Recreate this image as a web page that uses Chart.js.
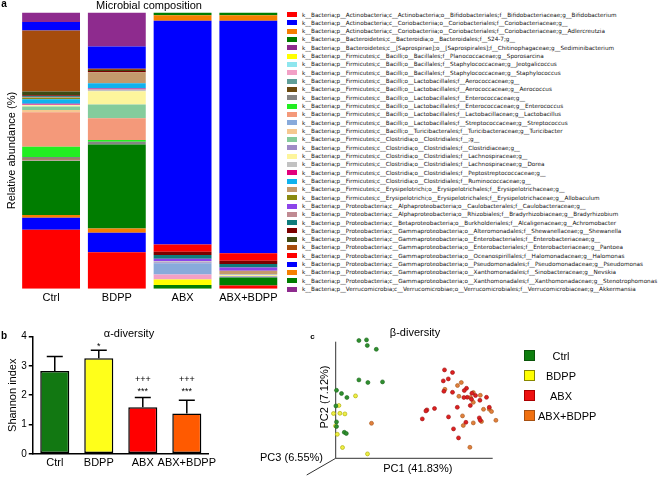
<!DOCTYPE html>
<html>
<head>
<meta charset="utf-8">
<script src="https://cdn.jsdelivr.net/npm/chart.js@4.4.0/dist/chart.umd.min.js"></script>
<style>
  body { margin: 0; width: 659px; height: 477px; position: relative; overflow: hidden; background: #fff;
         font-family: "Liberation Sans", Arial, sans-serif; color: #000; }
  canvas { position: absolute; }
  .t { position: absolute; white-space: nowrap; line-height: 1; transform: translate(-50%, -50%); font-size: 11px; }
  .bold { font-weight: bold; }
  .lr { position: absolute; left: 286px; height: 8.32px; width: 380px; }
  .sw { position: absolute; left: 0.7px; top: 1.66px; width: 10.6px; height: 5px; }
  .lt { position: absolute; left: 16px; top: 0; line-height: 8.32px; font-family: "DejaVu Sans", sans-serif;
        font-size: 5.7px; color: #111; white-space: nowrap; }
  .lgc { position: absolute; height: 20px; }
  .lgc .sq { position: absolute; left: 0; top: 4px; width: 11px; height: 11px; border: 1px solid; box-sizing: border-box; }
  .lgc .lb { position: absolute; left: 14px; top: 4px; display: inline-block; min-width: 46px; text-align: center;
             font-size: 11px; line-height: 12px; white-space: nowrap; }
</style>
</head>
<body>
<canvas id="ca" width="285" height="310" style="left:0;top:0"></canvas>
<canvas id="cb" width="220" height="162" style="left:0;top:315px"></canvas>
<canvas id="cc" width="439" height="167" style="left:220px;top:310px"></canvas>
<div id="legA"></div>
<div id="legC"></div>

<div class="t bold" style="left:4px;top:4px;font-size:10px">a</div>
<div class="t" style="left:149px;top:5px">Microbial composition</div>
<div class="t bold" style="left:4px;top:336px;font-size:10px">b</div>
<div class="t" style="left:129px;top:332.5px">α-diversity</div>
<div class="t bold" style="left:312.5px;top:337px;font-size:8px">c</div>
<div class="t" style="left:415px;top:331.5px">β-diversity</div>
<div class="t" style="left:324px;top:396.7px;transform:translate(-50%,-50%) rotate(-90deg)">PC2 (7.12%)</div>
<div class="t" style="left:291.5px;top:456.7px">PC3 (6.55%)</div>
<div class="t" style="left:417.8px;top:467.5px">PC1 (41.83%)</div>

<script>
// ---- panel a: taxa and relative abundance (%) per group ----
const groups = ['Ctrl', 'BDPP', 'ABX', 'ABX+BDPP'];

const taxa = [
  'k__Bacteria;p__Actinobacteria;c__Actinobacteria;o__Bifidobacteriales;f__Bifidobacteriaceae;g__Bifidobacterium',
  'k__Bacteria;p__Actinobacteria;c__Coriobacteriia;o__Coriobacteriales;f__Coriobacteriaceae;g__',
  'k__Bacteria;p__Actinobacteria;c__Coriobacteriia;o__Coriobacteriales;f__Coriobacteriaceae;g__Adlercreutzia',
  'k__Bacteria;p__Bacteroidetes;c__Bacteroidia;o__Bacteroidales;f__S24-7;g__',
  'k__Bacteria;p__Bacteroidetes;c__[Saprospirae];o__[Saprospirales];f__Chitinophagaceae;g__Sediminibacterium',
  'k__Bacteria;p__Firmicutes;c__Bacilli;o__Bacillales;f__Planococcaceae;g__Sporosarcina',
  'k__Bacteria;p__Firmicutes;c__Bacilli;o__Bacillales;f__Staphylococcaceae;g__Jeotgalicoccus',
  'k__Bacteria;p__Firmicutes;c__Bacilli;o__Bacillales;f__Staphylococcaceae;g__Staphylococcus',
  'k__Bacteria;p__Firmicutes;c__Bacilli;o__Lactobacillales;f__Aerococcaceae;g__',
  'k__Bacteria;p__Firmicutes;c__Bacilli;o__Lactobacillales;f__Aerococcaceae;g__Aerococcus',
  'k__Bacteria;p__Firmicutes;c__Bacilli;o__Lactobacillales;f__Enterococcaceae;g__',
  'k__Bacteria;p__Firmicutes;c__Bacilli;o__Lactobacillales;f__Enterococcaceae;g__Enterococcus',
  'k__Bacteria;p__Firmicutes;c__Bacilli;o__Lactobacillales;f__Lactobacillaceae;g__Lactobacillus',
  'k__Bacteria;p__Firmicutes;c__Bacilli;o__Lactobacillales;f__Streptococcaceae;g__Streptococcus',
  'k__Bacteria;p__Firmicutes;c__Bacilli;o__Turicibacterales;f__Turicibacteraceae;g__Turicibacter',
  'k__Bacteria;p__Firmicutes;c__Clostridia;o__Clostridiales;f__;g__',
  'k__Bacteria;p__Firmicutes;c__Clostridia;o__Clostridiales;f__Clostridiaceae;g__',
  'k__Bacteria;p__Firmicutes;c__Clostridia;o__Clostridiales;f__Lachnospiraceae;g__',
  'k__Bacteria;p__Firmicutes;c__Clostridia;o__Clostridiales;f__Lachnospiraceae;g__Dorea',
  'k__Bacteria;p__Firmicutes;c__Clostridia;o__Clostridiales;f__Peptostreptococcaceae;g__',
  'k__Bacteria;p__Firmicutes;c__Clostridia;o__Clostridiales;f__Ruminococcaceae;g__',
  'k__Bacteria;p__Firmicutes;c__Erysipelotrichi;o__Erysipelotrichales;f__Erysipelotrichaceae;g__',
  'k__Bacteria;p__Firmicutes;c__Erysipelotrichi;o__Erysipelotrichales;f__Erysipelotrichaceae;g__Allobaculum',
  'k__Bacteria;p__Proteobacteria;c__Alphaproteobacteria;o__Caulobacterales;f__Caulobacteraceae;g__',
  'k__Bacteria;p__Proteobacteria;c__Alphaproteobacteria;o__Rhizobiales;f__Bradyrhizobiaceae;g__Bradyrhizobium',
  'k__Bacteria;p__Proteobacteria;c__Betaproteobacteria;o__Burkholderiales;f__Alcaligenaceae;g__Achromobacter',
  'k__Bacteria;p__Proteobacteria;c__Gammaproteobacteria;o__Alteromonadales;f__Shewanellaceae;g__Shewanella',
  'k__Bacteria;p__Proteobacteria;c__Gammaproteobacteria;o__Enterobacteriales;f__Enterobacteriaceae;g__',
  'k__Bacteria;p__Proteobacteria;c__Gammaproteobacteria;o__Enterobacteriales;f__Enterobacteriaceae;g__Pantoea',
  'k__Bacteria;p__Proteobacteria;c__Gammaproteobacteria;o__Oceanospirillales;f__Halomonadaceae;g__Halomonas',
  'k__Bacteria;p__Proteobacteria;c__Gammaproteobacteria;o__Pseudomonadales;f__Pseudomonadaceae;g__Pseudomonas',
  'k__Bacteria;p__Proteobacteria;c__Gammaproteobacteria;o__Xanthomonadales;f__Sinobacteraceae;g__Nevskia',
  'k__Bacteria;p__Proteobacteria;c__Gammaproteobacteria;o__Xanthomonadales;f__Xanthomonadaceae;g__Stenotrophomonas',
  'k__Bacteria;p__Verrucomicrobia;c__Verrucomicrobiae;o__Verrucomicrobiales;f__Verrucomicrobiaceae;g__Akkermansia'
];

const taxaColors = [
  '#ff0000', '#0000ff', '#f57d00', '#007d00', '#8e2b8e', '#ffff00', '#8ee6ee', '#f2a0c6', '#5f9e98', '#6b4a10',
  '#858585', '#22ee22', '#f4997a', '#88aadb', '#f6c890', '#84cc9c', '#a08cc6', '#fdf59c', '#c2c2c2', '#e2007c',
  '#10b2ee', '#c49a6c', '#8a8a10', '#8c44ea', '#c08a92', '#0e7c7c', '#7c0000', '#3e4a14', '#a64c0c', '#ff0000',
  '#0000ff', '#f58000', '#007d00', '#8e2b8e'
];

const ctrlAbund = [21.3, 4.4, 1.0, 19.6, 0, 0, 0, 0.4, 0, 0.4, 0.6, 3.7, 12.5, 0, 0.8, 1.3, 0, 0.4, 0.2, 0.4,
                   1.6, 0, 0.5, 0, 0.3, 0.3, 0.3, 1.4, 22.1, 0, 3.1, 0, 0, 3.4];
const bdppAbund = [13.2, 7.1, 1.5, 30.4, 0, 0, 0, 0, 0, 0, 1.0, 0.6, 7.9, 0, 0, 5.0, 0, 4.8, 0.6, 0.4,
                   1.9, 4.0, 0, 0, 0, 0, 0.4, 0.4, 0.4, 0, 8.1, 0, 0, 12.3];
const abxAbund = [0, 0, 0, 1.3, 0, 2.0, 0, 1.8, 0, 0, 0, 0, 0, 4.1, 0, 0, 0.4, 0, 0.3, 0,
                  0, 0, 0, 0.9, 0, 1.4, 1.2, 0, 0, 2.6, 81.0, 2.0, 1.0, 0];
const abxBdppAbund = [1.2, 0, 0, 2.9, 0, 0, 0, 0, 0, 0, 0, 0, 0, 0, 0, 0, 0.4, 0.5, 0.3, 0,
                      0, 1.2, 0, 1.2, 0, 1.2, 1.2, 0, 0, 2.7, 84.2, 2.0, 1.0, 0];

// ---- panel b: Shannon index ----
const shannonMean = [2.83, 3.26, 1.59, 1.38];
const shannonSD = [0.49, 0.28, 0.33, 0.45];
const groupBarColors = ['#127812', '#ffff1a', '#ff0000', '#ff5a00'];
const sigVsCtrl = ['', '*', '***', '***'];
const sigVsBdpp = ['', '', '+++', '+++'];
const sigLevel = [null, 3.72, 2.2, 2.2];

// ---- panel c: PCoA scores (projected PC1 / PC2) ----
const pc1Ctrl = [-0.184, -0.146, -0.142, -0.097, -0.184, -0.139, -0.066, -0.296, -0.271, -0.244, -0.299, -0.296, -0.296, -0.257, -0.247];
const pc2Ctrl = [0.289, 0.292, 0.264, 0.245, 0.092, 0.079, 0.082, 0.040, 0.024, 0.004, -0.038, -0.118, -0.141, -0.170, -0.176];
const pc1Bdpp = [-0.201, -0.284, -0.311, -0.279, -0.254, -0.301, -0.292, -0.266, -0.141];
const pc2Bdpp = [0.012, -0.036, -0.076, -0.075, -0.078, -0.138, -0.180, -0.246, -0.278];
const pc1Abx = [0.244, 0.284, 0.263, 0.238, 0.284, 0.241, 0.354, 0.343, 0.381, 0.358, 0.399, 0.421, 0.341, 0.379,
                0.454, 0.373, 0.308, 0.156, 0.194, 0.151, 0.468, 0.133, 0.264, 0.418, 0.351, 0.289, 0.314, 0.423];
const pc2Abx = [0.142, 0.129, 0.097, 0.087, 0.030, 0.035, 0.050, 0.039, 0.025, 0.005, 0.014, -0.010, 0.004, -0.005,
                0.005, -0.036, -0.045, -0.058, -0.051, -0.063, -0.045, -0.103, -0.093, -0.098, -0.120, -0.153, -0.198, -0.110];
const pc1AbxBdpp = [0.328, 0.309, 0.246, 0.388, 0.316, 0.423, 0.374, 0.388, 0.439, 0.468, 0.479, 0.334, 0.429, 0.388, 0.338, 0.501, -0.121, 0.371];
const pc2AbxBdpp = [0.079, 0.064, 0.045, 0.029, 0.010, 0.015, 0.004, -0.020, -0.055, -0.055, -0.066, -0.088, -0.116, -0.123, -0.136, -0.110, -0.125, -0.245];

const pointFill = ['#2f8f2f', '#eeee44', '#dd2020', '#e0803c'];
const pointEdge = ['#1b661b', '#a8a800', '#9c1010', '#a8581c'];
const legendFill = ['#0f7f0f', '#ffff00', '#ee1111', '#f07010'];
const legendEdge = ['#0a550a', '#888800', '#aa0000', '#a65012'];

Chart.defaults.font.family = '"Liberation Sans", Arial, sans-serif';
Chart.defaults.color = '#000';

// panel a legend
const legA = document.getElementById('legA');
taxa.forEach((t, i) => {
  const row = document.createElement('div');
  row.className = 'lr';
  row.style.top = (10.5 + i * 8.32) + 'px';
  row.innerHTML = `<span class="sw" style="background:${taxaColors[i]}"></span><span class="lt">${t}</span>`;
  legA.appendChild(row);
});

// panel a chart
new Chart(document.getElementById('ca'), {
  type: 'bar',
  data: {
    labels: groups,
    datasets: taxa.map((t, i) => ({
      label: t,
      data: [ctrlAbund[i], bdppAbund[i], abxAbund[i], abxBdppAbund[i]],
      backgroundColor: taxaColors[i],
      borderWidth: 0,
      barPercentage: 0.88,
      categoryPercentage: 1
    }))
  },
  options: {
    responsive: false,
    animation: false,
    layout: { autoPadding: false, padding: { left: 5, right: 3.8, top: 12.5, bottom: 2.1 } },
    plugins: { legend: { display: false }, tooltip: { enabled: false } },
    scales: {
      x: {
        stacked: true,
        grid: { display: false, drawTicks: false },
        border: { display: false },
        ticks: { font: { size: 11 }, padding: 3, maxRotation: 0, autoSkip: false }
      },
      y: {
        stacked: true, min: 0, max: 100,
        grid: { display: false, drawTicks: false },
        border: { display: false },
        ticks: { display: false },
        title: { display: true, text: 'Relative abundance (%)', font: { size: 11 }, padding: 0 }
      }
    }
  }
});

// panel b: error bars and significance marks
const errorBars = {
  id: 'errorBars',
  afterDatasetsDraw(chart) {
    const { ctx, scales: { x, y } } = chart;
    ctx.save();
    ctx.strokeStyle = '#000';
    ctx.lineWidth = 1.5;
    shannonMean.forEach((m, i) => {
      const cx = x.getPixelForValue(i);
      const y0 = y.getPixelForValue(m);
      const y1 = y.getPixelForValue(m + shannonSD[i]);
      ctx.beginPath();
      ctx.moveTo(cx, y0);
      ctx.lineTo(cx, y1);
      ctx.moveTo(cx - 8, y1);
      ctx.lineTo(cx + 8, y1);
      ctx.stroke();
    });
    ctx.fillStyle = '#000';
    ctx.textAlign = 'center';
    ctx.textBaseline = 'middle';
    ctx.font = '9px "Liberation Sans", Arial, sans-serif';
    groups.forEach((g, i) => {
      if (sigLevel[i] === null) return;
      const cx = x.getPixelForValue(i);
      const ys = y.getPixelForValue(sigLevel[i]);
      ctx.fillText(sigVsCtrl[i], cx, ys + 2);
      if (sigVsBdpp[i]) ctx.fillText(sigVsBdpp[i], cx, ys - 10);
    });
    ctx.restore();
  }
};

new Chart(document.getElementById('cb'), {
  type: 'bar',
  data: {
    labels: groups,
    datasets: [{
      data: shannonMean,
      backgroundColor: groupBarColors,
      borderColor: '#000',
      borderWidth: 1.5,
      borderSkipped: false,
      barPercentage: 0.66,
      categoryPercentage: 1
    }]
  },
  options: {
    responsive: false,
    animation: false,
    layout: { autoPadding: false, padding: { left: 6, right: 8, top: 21.7, bottom: 4 } },
    plugins: { legend: { display: false }, tooltip: { enabled: false } },
    scales: {
      x: {
        grid: { display: false, drawTicks: false },
        border: { display: true, color: '#000', width: 1.5 },
        ticks: { font: { size: 11 }, padding: 3, maxRotation: 0, minRotation: 0, autoSkip: false }
      },
      y: {
        min: 0, max: 4,
        grid: { display: true, drawOnChartArea: false, drawTicks: true, tickLength: 4, color: '#000', lineWidth: 1.5 },
        border: { display: true, color: '#000', width: 1.5 },
        ticks: { stepSize: 1, font: { size: 10 }, padding: 2 },
        title: { display: true, text: 'Shannon index', font: { size: 11 }, padding: 0 }
      }
    }
  },
  plugins: [errorBars]
});

// panel c: 3D-style axes
const pcoaAxes = {
  id: 'pcoaAxes',
  beforeDatasetsDraw(chart) {
    const { ctx, chartArea: a } = chart;
    ctx.save();
    ctx.strokeStyle = '#333';
    ctx.lineWidth = 1;
    ctx.beginPath();
    ctx.moveTo(a.left, a.top + 3.4);
    ctx.lineTo(a.left, a.bottom);
    ctx.lineTo(a.left + 157, a.bottom);
    ctx.moveTo(a.left, a.bottom);
    ctx.lineTo(a.left - 29, a.bottom + 16.7);
    ctx.stroke();
    ctx.restore();
  }
};

const toPoints = (xs, ys) => xs.map((v, i) => ({ x: v, y: ys[i] }));
const pcoaSets = [
  [pc1Ctrl, pc2Ctrl], [pc1Bdpp, pc2Bdpp], [pc1Abx, pc2Abx], [pc1AbxBdpp, pc2AbxBdpp]
];

new Chart(document.getElementById('cc'), {
  type: 'scatter',
  data: {
    datasets: pcoaSets.map((s, i) => ({
      label: groups[i],
      data: toPoints(s[0], s[1]),
      backgroundColor: pointFill[i],
      borderColor: pointEdge[i],
      borderWidth: 0.6,
      pointRadius: 2,
      clip: false
    }))
  },
  options: {
    responsive: false,
    animation: false,
    layout: { autoPadding: false, padding: { left: 115.7, right: 163.3, top: 28.3, bottom: 18.7 } },
    plugins: { legend: { display: false }, tooltip: { enabled: false } },
    scales: {
      x: { display: false, min: -0.3, max: 0.5 },
      y: { display: false, min: -0.3, max: 0.3 }
    }
  },
  plugins: [pcoaAxes]
});

// panel c legend
const legC = document.getElementById('legC');
groups.forEach((g, i) => {
  const item = document.createElement('div');
  item.className = 'lgc';
  item.style.left = '524px';
  item.style.top = (346.3 + i * 19.9) + 'px';
  item.innerHTML = `<span class="sq" style="background:${legendFill[i]};border-color:${legendEdge[i]}"></span>` +
                   `<span class="lb">${g}</span>`;
  legC.appendChild(item);
});
</script>
</body>
</html>
